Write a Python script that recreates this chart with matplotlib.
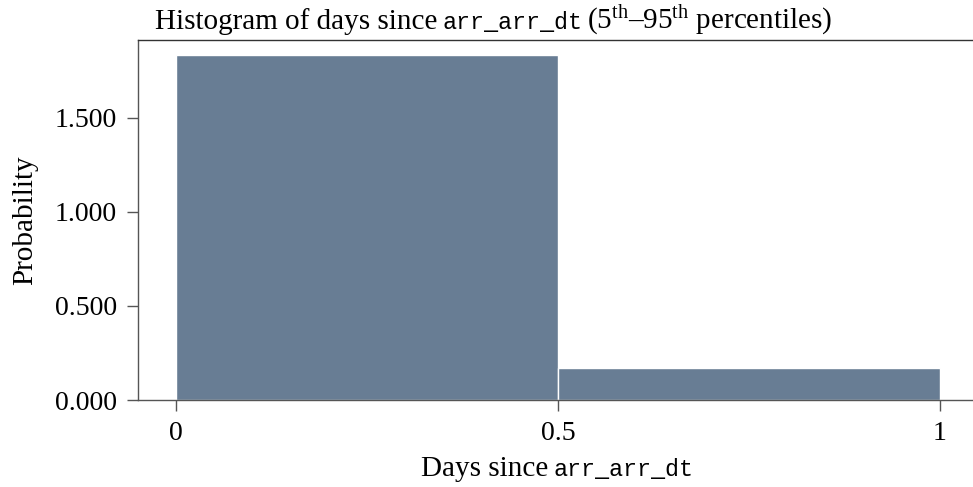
import matplotlib
matplotlib.use("Agg")
import matplotlib.pyplot as plt
import numpy as np

bin_edges = [0.0, 0.5, 1.0]
densities = [1.832, 0.168]
yticks = [0.0, 0.5, 1.0, 1.5]
ytick_labels = ["0.000", "0.500", "1.000", "1.500"]
xticks = [0, 0.5, 1]
xtick_labels = ["0", "0.5", "1"]
title_parts = ["Histogram of days since", "arr_arr_dt",
               r"(5$^{\mathrm{th}}$–95$^{\mathrm{th}}$ percentiles)"]
xlabel_parts = ["Days since", "arr_arr_dt"]
ylabel_text = "Probability"

plt.rcParams['font.family'] = ['Liberation Serif', 'DejaVu Serif']
plt.rcParams['mathtext.fontset'] = 'custom'
plt.rcParams['mathtext.rm'] = 'Liberation Serif'
plt.rcParams['mathtext.it'] = 'Liberation Serif:italic'
plt.rcParams['mathtext.tt'] = 'Liberation Mono'

W, H = 973, 487
fig = plt.figure(figsize=(W / 100, H / 100), dpi=100)
left, right, top, bottom = 137.8, 978.2, 40, 400
ax = fig.add_axes([left / W, 1 - bottom / H, (right - left) / W, (bottom - top) / H])

widths = np.diff(bin_edges)
ax.bar(bin_edges[:-1], densities, width=widths, align='edge',
       color='#687d94', edgecolor='white', linewidth=1.0, zorder=2)

ax.set_xlim(-0.05, 1.05)
ax.set_ylim(0, 1.913)

spine_color = '#555555'
for s in ['left', 'bottom', 'top']:
    ax.spines[s].set_color(spine_color)
    ax.spines[s].set_linewidth(1.0)
ax.spines['right'].set_visible(False)
ax.spines['top'].set_color('#333333')

fs = 20
fs_text = 21
fs_mono = 16.8
ax.set_yticks(yticks)
ax.set_yticklabels(ytick_labels)
ax.set_xticks(xticks)
ax.set_xticklabels(xtick_labels)
ax.tick_params(axis='both', direction='out', length=8, width=1.0,
               color=spine_color, labelsize=fs, pad=7)

ax.set_ylabel(ylabel_text, fontsize=fs_text, labelpad=12)

renderer = fig.canvas.get_renderer()


def put_row(parts, styles, x_px, baseline_px, align='left', gap_px=5):
    texts = []
    for p, st in zip(parts, styles):
        if st == 'mono':
            t = fig.text(0, 0, p, fontsize=fs_mono, family='Liberation Mono',
                         va='baseline', ha='left')
        else:
            t = fig.text(0, 0, p, fontsize=fs_text, va='baseline', ha='left')
        texts.append(t)
    ws = [t.get_window_extent(renderer).width for t in texts]
    total = sum(ws) + gap_px * (len(ws) - 1)
    x = x_px if align == 'left' else x_px - total / 2
    for t, w in zip(texts, ws):
        t.set_position((x / W, 1 - baseline_px / H))
        x += w + gap_px


put_row(title_parts, ['serif', 'mono', 'serif'], 155, 29, 'left')
put_row(xlabel_parts, ['serif', 'mono'], 557, 476, 'center')

fig.savefig('out.png', dpi=100)
